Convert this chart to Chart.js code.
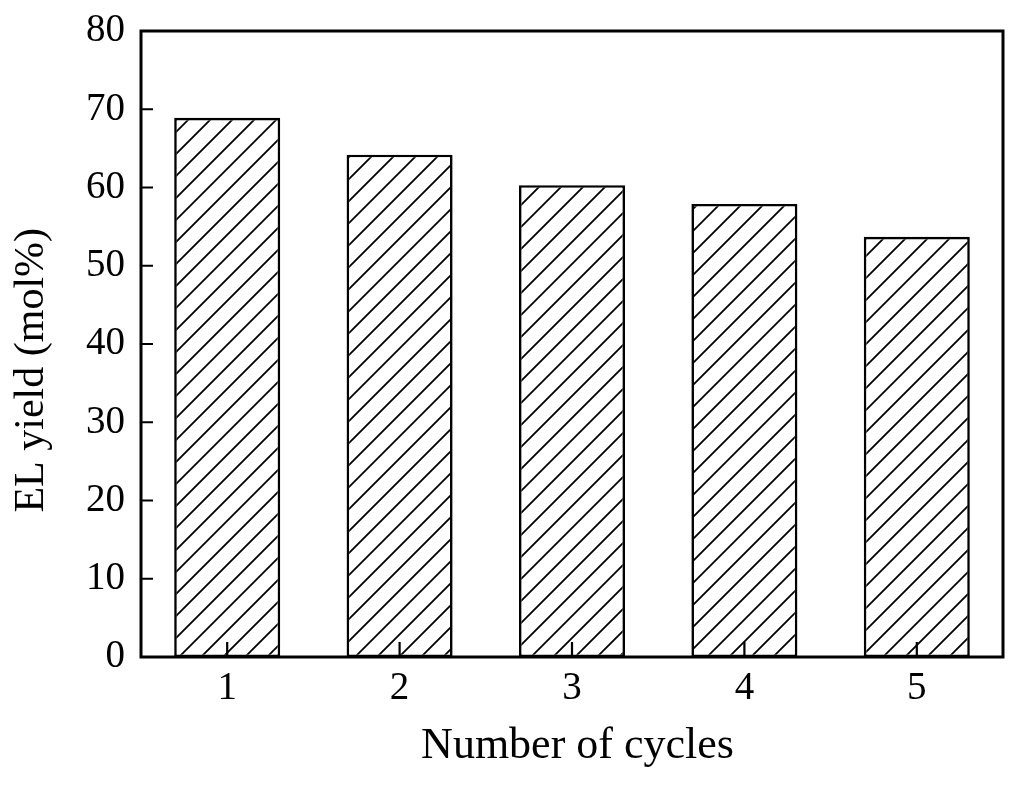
<!DOCTYPE html>
<html>
<head>
<meta charset="utf-8">
<script src="https://cdn.jsdelivr.net/npm/chart.js@4"></script>
<style>
  html, body { margin: 0; padding: 0; background: #fff; }
  #wrap { width: 1024px; height: 785px; }
</style>
</head>
<body>
<div id="wrap"><canvas id="chart"></canvas></div>
<script>
"use strict";

// ── data ──
const CYCLES = ["1", "2", "3", "4", "5"];
const EL_YIELD = [68.9, 64.2, 60.3, 57.9, 53.7];
const Y_TICKS = [0, 10, 20, 30, 40, 50, 60, 70, 80];

const FONT = "'Liberation Serif', 'Times New Roman', serif";
const NBSP = "\u00a0";

// diagonal hatch "/" pattern
function makeHatch() {
  const s = 22;
  const c = document.createElement("canvas");
  c.width = s; c.height = s;
  const g = c.getContext("2d");
  g.fillStyle = "#fff";
  g.fillRect(0, 0, s, s);
  g.strokeStyle = "#000";
  g.lineWidth = 1.8;
  g.beginPath();
  g.moveTo(-2, s + 2); g.lineTo(s + 2, -2);
  g.moveTo(-2, 2); g.lineTo(2, -2);
  g.moveTo(s - 2, s + 2); g.lineTo(s + 2, s - 2);
  g.stroke();
  return g.createPattern(c, "repeat");
}

// frame + inward ticks
const framePlugin = {
  id: "frame",
  afterDraw(chart) {
    const { ctx, chartArea: a, scales } = chart;
    ctx.save();
    ctx.strokeStyle = "#000";
    ctx.lineWidth = 2.2;
    ctx.beginPath();
    Y_TICKS.forEach(v => {
      const y = scales.y.getPixelForValue(v);
      ctx.moveTo(a.left, y); ctx.lineTo(a.left + 12, y);
    });
    CYCLES.forEach((c, i) => {
      const x = scales.x.getPixelForValue(i);
      ctx.moveTo(x, a.bottom); ctx.lineTo(x, a.bottom - 15);
    });
    ctx.stroke();
    ctx.lineWidth = 3;
    ctx.strokeRect(a.left, a.top, a.right - a.left, a.bottom - a.top);
    ctx.restore();
  }
};

new Chart(document.getElementById("chart"), {
  type: "bar",
  data: {
    labels: CYCLES,
    datasets: [{
      data: EL_YIELD,
      backgroundColor: makeHatch(),
      borderColor: "#000",
      borderWidth: 2.6,
      borderSkipped: false,
      barPercentage: 0.615,
      categoryPercentage: 1.0
    }]
  },
  options: {
    responsive: true,
    maintainAspectRatio: false,
    animation: false,
    layout: { padding: { top: 31, right: 21, left: 0, bottom: 0 } },
    plugins: { legend: { display: false }, tooltip: { enabled: false } },
    scales: {
      x: {
        grid: { display: false, drawTicks: false },
        border: { display: false },
        ticks: { color: "#000", font: { family: FONT, size: 39 }, padding: 8 },
        title: {
          display: true, text: NBSP + "Number of cycles", color: "#000",
          font: { family: FONT, size: 44 }, padding: { top: 8, bottom: 12 }
        },
        afterFit(scale) {
          scale.height = 128;
          scale.paddingLeft = 0; scale.paddingRight = 0;
        }
      },
      y: {
        min: 0, max: 80,
        afterBuildTicks(scale) { scale.ticks = Y_TICKS.map(v => ({ value: v })); },
        grid: { display: false, drawTicks: false },
        border: { display: false },
        ticks: { color: "#000", font: { family: FONT, size: 39 }, padding: 16 },
        title: {
          display: true, text: "EL yield (mol%)" + NBSP.repeat(5), color: "#000",
          font: { family: FONT, size: 42 }, padding: { top: 7, bottom: 4 }
        },
        afterFit(scale) {
          scale.width = 141;
          scale.paddingTop = 0; scale.paddingBottom = 0;
        }
      }
    }
  },
  plugins: [framePlugin]
});
</script>
</body>
</html>
